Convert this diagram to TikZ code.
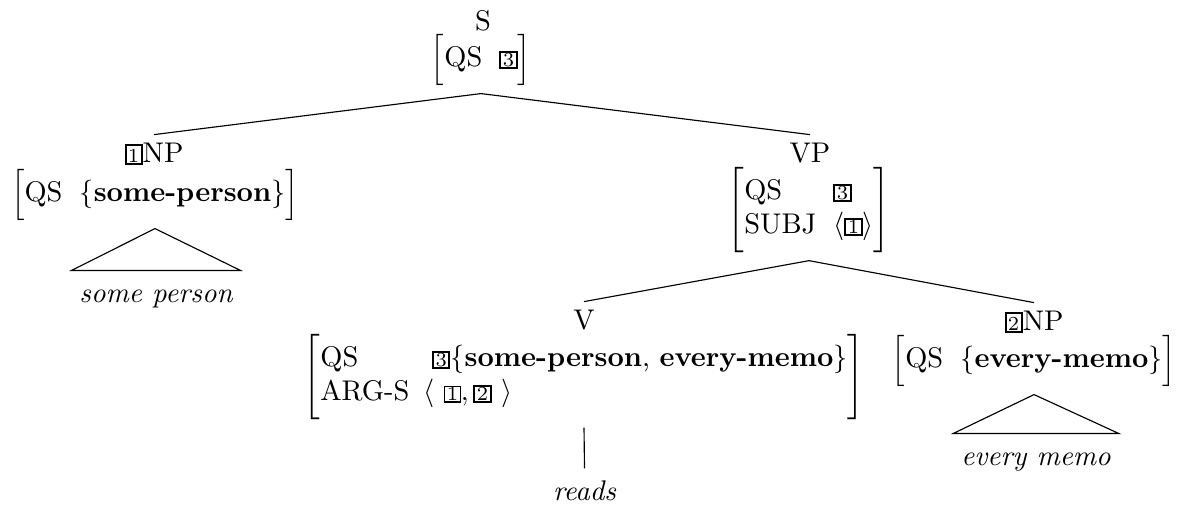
\documentclass[tikz,border=0pt]{standalone}
\usepackage{amsmath}
\newcommand\tg[2][0.7pt]{{\setlength\fboxrule{#1}\setlength\fboxsep{0pt}\fbox{\rule[-0.2pt]{0pt}{5pt}\makebox[5pt]{\scriptsize #2}}}}
\newcommand\tgl[1]{{\setlength\fboxrule{0.7pt}\setlength\fboxsep{0pt}\fbox{\rule[-0.4pt]{0pt}{6.2pt}\makebox[5pt]{\scriptsize #1}}}}
\delimitershortfall=-4pt
\delimiterfactor=1000
\begin{document}
\begin{tikzpicture}[x=0.3515pt,y=-0.3515pt,
  cat/.style={inner sep=2.6pt, anchor=base},
  avm/.style={inner sep=2.6pt, anchor=center},
  leaf/.style={inner sep=2.6pt, anchor=base, text height=8.3pt, font=\itshape},
  edge/.style={line width=0.4pt}]
\useasboundingbox (0,0) rectangle (1184,505);
% S
\node[cat] (S) at (483,30) {S};
\node[avm] (Sa) at (481,60) {$\left[\begin{array}{@{}l@{\hspace{6pt}}l@{}}\text{QS} & \tg{3}\end{array}\right]$};
% NP1
\node[cat] (NPa) at (154,162) {\tgl{1}NP};
\node[avm] (NPaa) at (155,195) {$\left[\begin{array}{@{}l@{\hspace{6pt}}l@{}}\text{QS} & \{\textbf{some-person}\}\end{array}\right]$};
\node[leaf] (sp) at (156,302) {some person};
% VP
\node[cat] (VP) at (810,162) {VP};
\node[avm] (VPa) at (809,210) {$\left[\begin{array}{@{}l@{\hspace{6pt}}l@{}}\text{QS} & \tg{3}\\ \text{SUBJ} & \langle\tg{1}\rangle\end{array}\right]$};
% V
\node[cat] (V) at (584,329) {V};
\node[avm] (Va) at (584,377) {$\left[\begin{array}{@{}l@{\hspace{5pt}}l@{}}\text{QS} & \hspace{3pt}\tg{3}\{\text{\textbf{some-person}, \textbf{every-memo}}\}\\ \text{ARG-S} & \langle\ \tg[0.4pt]{1}, \tg{2}\ \rangle\end{array}\right]$};
\node[leaf] (rd) at (584.5,500) {reads};
% NP2
\node[cat] (NPb) at (1034,330) {\tgl{2}NP};
\node[avm] (NPba) at (1034,361) {$\left[\begin{array}{@{}l@{\hspace{6pt}}l@{}}\text{QS} & \{\textbf{every-memo}\}\end{array}\right]$};
\node[leaf] (em) at (1036,465) {every memo};
% edges
\draw[edge] (Sa.south) -- (NPa.north);
\draw[edge] (Sa.south) -- (VP.north);
\draw[edge] (VPa.south) -- (V.north);
\draw[edge] (VPa.south) -- (NPb.north);
\draw[edge] (Va.south) -- (rd.north);
\draw[edge] (NPaa.south) -- (sp.north west) -- (sp.north east) -- cycle;
\draw[edge] (NPba.south) -- (em.north west) -- (em.north east) -- cycle;
\end{tikzpicture}
\end{document}
